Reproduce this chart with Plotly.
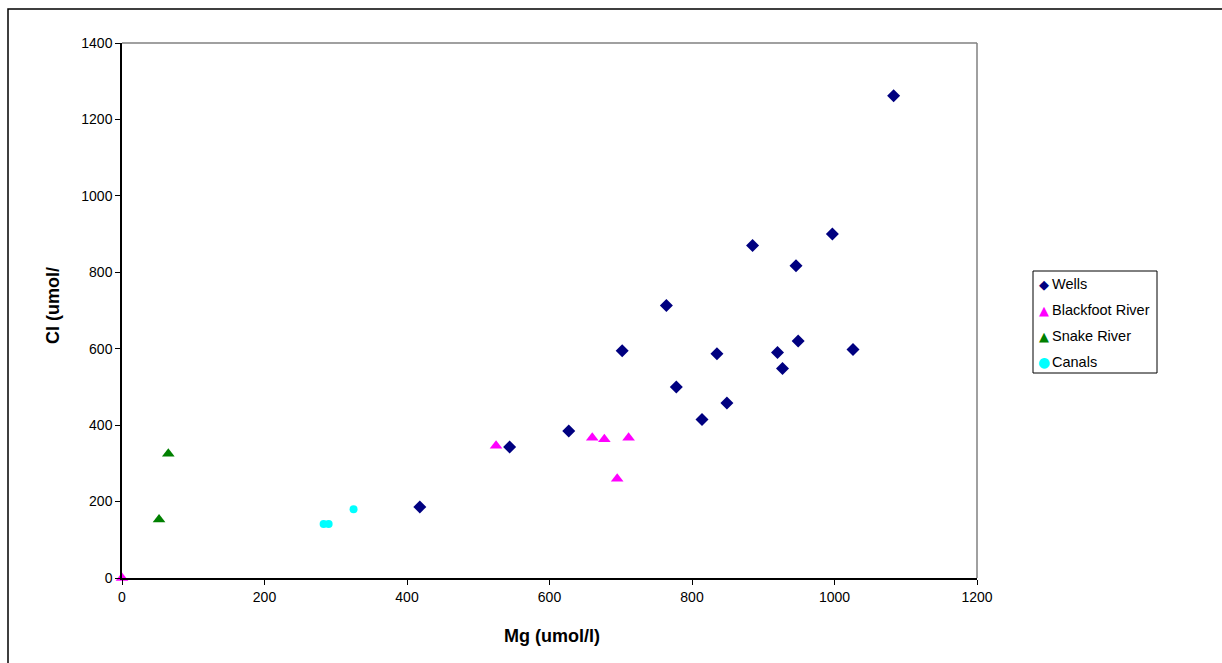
import plotly.graph_objects as go

# ---- data ----
wells_mg = [1083, 997, 885, 946, 764, 702, 835, 920, 949, 1026, 927, 778, 849, 814, 627, 544, 418]
wells_cl = [1262, 900, 870, 817, 713, 595, 587, 590, 620, 598, 548, 500, 458, 415, 385, 343, 186]
blackfoot_mg = [0, 525, 660, 677, 711, 695]
blackfoot_cl = [0, 346, 367, 363, 367, 260]
snake_mg = [52, 65]
snake_cl = [153, 325]
canals_mg = [283, 290, 325]
canals_cl = [141, 141, 180]

series_names = ["Wells", "Blackfoot River", "Snake River", "Canals"]
series_colors = ["#000080", "#FF00FF", "#008000", "#00FFFF"]
series_symbols = ["diamond", "triangle-up", "triangle-up", "circle"]
legend_glyphs = ["◆", "▲", "▲", "●"]
x_ticks = [0, 200, 400, 600, 800, 1000, 1200]
y_ticks = [0, 200, 400, 600, 800, 1000, 1200, 1400]

W, H = 1222, 663
L, R, T, B = 122, 245, 43, 85
PW, PH = W - L - R, H - T - B


def px(x):
    return (x - L) / PW


def py(y):
    return (H - B - y) / PH


FONT = "Liberation Sans, Arial, sans-serif"

fig = go.Figure()
data = [(wells_mg, wells_cl), (blackfoot_mg, blackfoot_cl), (snake_mg, snake_cl), (canals_mg, canals_cl)]
sizes = [10, 11, 11, 8]
for (xs, ys), name, col, sym, sz in zip(data, series_names, series_colors, series_symbols, sizes):
    fig.add_trace(go.Scatter(x=xs, y=ys, mode="markers", name=name,
                             marker=dict(color=col, symbol=sym, size=sz, line=dict(width=0)),
                             showlegend=False, cliponaxis=False))

shapes = [
    # outer chart border
    dict(type="rect", xref="paper", yref="paper", x0=px(8), x1=2, y0=-2, y1=py(9),
         line=dict(color="black", width=1.5), layer="below"),
    # plot area top / right border (grey)
    dict(type="line", xref="paper", yref="paper", x0=0, x1=1, y0=1, y1=1,
         line=dict(color="#808080", width=1.5), layer="below"),
    dict(type="line", xref="paper", yref="paper", x0=1, x1=1, y0=0, y1=1,
         line=dict(color="#808080", width=1.5), layer="below"),
    # legend box
    dict(type="rect", xref="paper", yref="paper", x0=px(1033), x1=px(1157), y0=py(373), y1=py(271),
         line=dict(color="black", width=1), fillcolor="white"),
]

annotations = [
    dict(text="<b>Mg (umol/l)</b>", xref="paper", yref="paper", x=px(552), y=py(636),
         showarrow=False, font=dict(family=FONT, size=18, color="black"), xanchor="center", yanchor="middle"),
    dict(text="<b>Cl (umol/</b>", xref="paper", yref="paper", x=px(53), y=py(306), textangle=-90,
         showarrow=False, font=dict(family=FONT, size=18, color="black"), xanchor="center", yanchor="middle"),
]
legend_y = [284, 310, 336, 362]
glyph_sizes = [13, 13, 13, 14]
for name, col, g, yy, gs in zip(series_names, series_colors, legend_glyphs, legend_y, glyph_sizes):
    annotations.append(dict(text=g, xref="paper", yref="paper", x=px(1044), y=py(yy), showarrow=False,
                            font=dict(family="DejaVu Sans", size=gs, color=col), xanchor="center", yanchor="middle"))
    annotations.append(dict(text=name, xref="paper", yref="paper", x=px(1050), y=py(yy), showarrow=False,
                            font=dict(family=FONT, size=14.5, color="black"), xanchor="left", yanchor="middle"))

fig.update_layout(
    width=W, height=H, margin=dict(l=L, r=R, t=T, b=B, pad=0),
    paper_bgcolor="white", plot_bgcolor="white",
    font=dict(family=FONT, size=14, color="black"),
    shapes=shapes, annotations=annotations, showlegend=False,
    xaxis=dict(range=[0, 1200], tickvals=x_ticks, showgrid=False, zeroline=False,
               showline=True, linecolor="black", linewidth=1.5, ticks="outside", ticklen=5,
               tickcolor="black", tickwidth=1, tickfont=dict(size=14, family=FONT, color="black")),
    yaxis=dict(range=[0, 1400], tickvals=y_ticks, showgrid=False, zeroline=False,
               showline=True, linecolor="black", linewidth=1.5, ticks="outside", ticklen=5,
               tickcolor="black", tickwidth=1, tickfont=dict(size=14, family=FONT, color="black")),
)

fig.write_html("out.html", config={"displayModeBar": False},
               post_script="document.body.style.margin='0';document.body.style.overflow='hidden';")
